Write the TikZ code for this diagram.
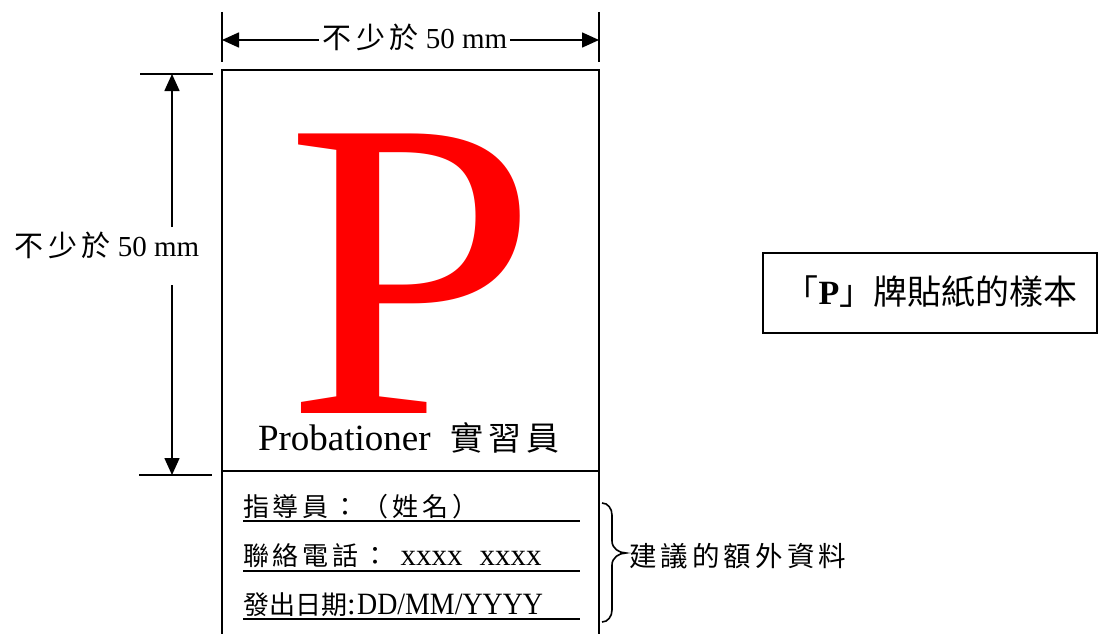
\documentclass[tikz,border=0pt]{standalone}
\usepackage{fontspec}
\setmainfont{Liberation Serif}
\newfontfamily\cjk{Noto Sans CJK TC}
\newfontfamily\cjkwide[LetterSpace=15]{Noto Sans CJK TC}
\newfontfamily\narrowserif[FakeStretch=0.9]{Liberation Serif}
\newfontfamily\wideserif[FakeStretch=1.065]{Liberation Serif}
\usetikzlibrary{arrows.meta}
\begin{document}
\begin{tikzpicture}[x=1pt,y=-1pt,line width=1.6pt,
  dimtip/.style={-{Triangle[length=17pt,width=15pt]}},
  txt/.style={inner sep=0pt,outer sep=0pt},
  dimfont/.style={font=\fontsize{29}{34}\selectfont},
  infofont/.style={font=\cjkwide\fontsize{26}{30}\selectfont}]
\useasboundingbox (0,0) rectangle (1098,634);
% top dimension
\coordinate (tl1) at (222,12); \coordinate (tl2) at (222,62);
\coordinate (tr1) at (599,12); \coordinate (tr2) at (599,62);
\draw (tl1) -- (tl2);
\draw (tr1) -- (tr2);
\node[txt,dimfont] (toplabel) at (415,37) {{\cjkwide 不少於} 50 mm};
\coordinate (ta) at (222,40); \coordinate (tb) at (599,40);
\draw[dimtip] ([xshift=-4pt]toplabel.west |- ta) -- (ta);
\draw[dimtip] ([xshift=3pt]toplabel.east |- tb) -- (tb);
% left dimension
\coordinate (lt1) at (140,74); \coordinate (lt2) at (213,74);
\coordinate (lb1) at (139,475); \coordinate (lb2) at (212,475);
\draw (lt1) -- (lt2);
\draw (lb1) -- (lb2);
\node[txt,dimfont] (leftlabel) at (107,245) {{\cjkwide 不少於} 50 mm};
\coordinate (la1) at (172,227); \coordinate (la2) at (172,74);
\coordinate (lb3) at (172,285); \coordinate (lb4) at (172,475);
\draw[dimtip] (la1) -- (la2);
\draw[dimtip] (lb3) -- (lb4);
% main sticker
\coordinate (b1) at (222,634); \coordinate (b2) at (222,70);
\coordinate (b3) at (599,70); \coordinate (b4) at (599,634);
\draw (b1) -- (b2) -- (b3) -- (b4);
\coordinate (d1) at (222,471); \coordinate (d2) at (599,471);
\draw (d1) -- (d2);
\node[txt,anchor=base,text=red,font=\wideserif\fontsize{427}{427}\selectfont] (bigP) at (412,413) {P};
\node[txt,anchor=base west,font=\fontsize{37}{40}\selectfont] (prob) at (258,450)
  {Probationer\hspace{20pt}{\cjkwide\fontsize{33}{36}\selectfont 實習員}};
% info lines
\node[txt,anchor=base west,infofont] (l1) at (243,516) {指導員：（姓名）};
\node[txt,anchor=base west,infofont] (l2) at (243,565) {聯絡電話：\hspace{12pt}{\rmfamily\fontsize{31}{34}\selectfont xxxx\hspace{17pt}xxxx}};
\node[txt,anchor=base west,font=\cjk\fontsize{26}{30}\selectfont] (l3) at (243,614) {發出日期{\rmfamily\fontsize{31}{34}\selectfont :\hspace{1.5pt}{\narrowserif DD/MM/YYYY}}};
\draw (243,521) -- (580,521);
\draw (243,571) -- (580,571);
\draw (243,619) -- (580,619);
% brace
\draw (602,503) to[out=0,in=90] (612,515) -- (612,541) to[out=-90,in=180] (626,553)
  to[out=180,in=90] (612,565) -- (612,610) to[out=-90,in=0] (602,622);
\node[txt,anchor=west,font=\cjkwide\fontsize{27.5}{30}\selectfont] (extra) at (629,556) {建議的額外資料};
% title box
\node[draw,line width=1.5pt,minimum width=334pt,minimum height=80pt,inner sep=0pt] (titlebox) at (930,293) {};
\node[txt,font=\cjk\fontsize{34}{36}\selectfont] (title) at (931,292) {「{\rmfamily\bfseries P}」牌貼紙的樣本};
\end{tikzpicture}
\end{document}
